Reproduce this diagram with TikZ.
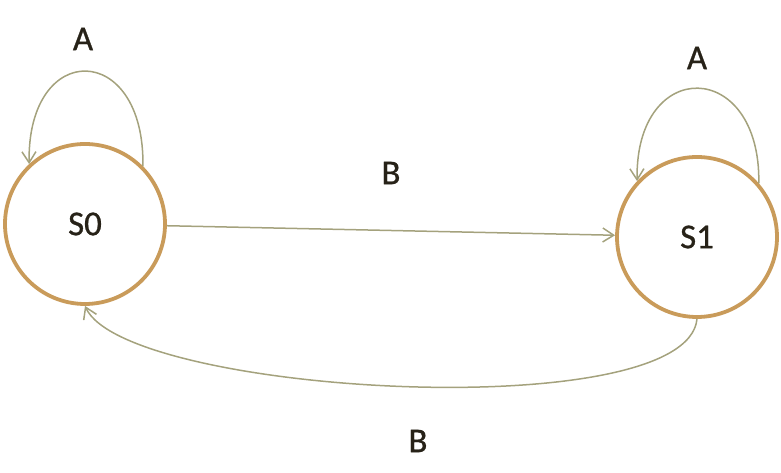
\documentclass[tikz,border=0pt]{standalone}
\usepackage{fontspec}
\setmainfont{Carlito}
\newfontfamily\statefont{Carlito}[FakeBold=0.8]
\definecolor{ring}{HTML}{C99B5A}
\definecolor{edgeline}{HTML}{A4A27D}
\definecolor{ink}{HTML}{272218}
\usetikzlibrary{arrows.meta}

\begin{document}
\begin{tikzpicture}[x=1bp,y=1bp,>={Straight Barb[length=11bp,width=14bp]},
  every node/.style={font=\statefont\fontsize{35}{40}\selectfont,text=ink},
  state/.style={draw=ring,line width=3.8bp,circle,minimum size=160bp,inner sep=0pt},
  trans/.style={->,edgeline,line width=1.5bp}]
\useasboundingbox (0,0) rectangle (781,473);
\node[state] (S0) at (85,249) {S0};
\node[state] (S1) at (697,236) {S1};
\node (A0) at (83,434) {A};
\node (A1) at (697,415) {A};
\node (Btop) at (391,300) {B};
\node (Bbot) at (418,32) {B};
\draw[trans] (S0.45) .. controls +(2,125) and +(-2,125) .. (S0.133);
\draw[trans] (S1.41) .. controls +(2,125) and +(-2,125) .. (S1.137);
\draw[trans] (S0) -- (S1);
\draw[trans] (S1.south) .. controls +(-10,-108) and +(40,-89) .. (S0.south);
\end{tikzpicture}
\end{document}
